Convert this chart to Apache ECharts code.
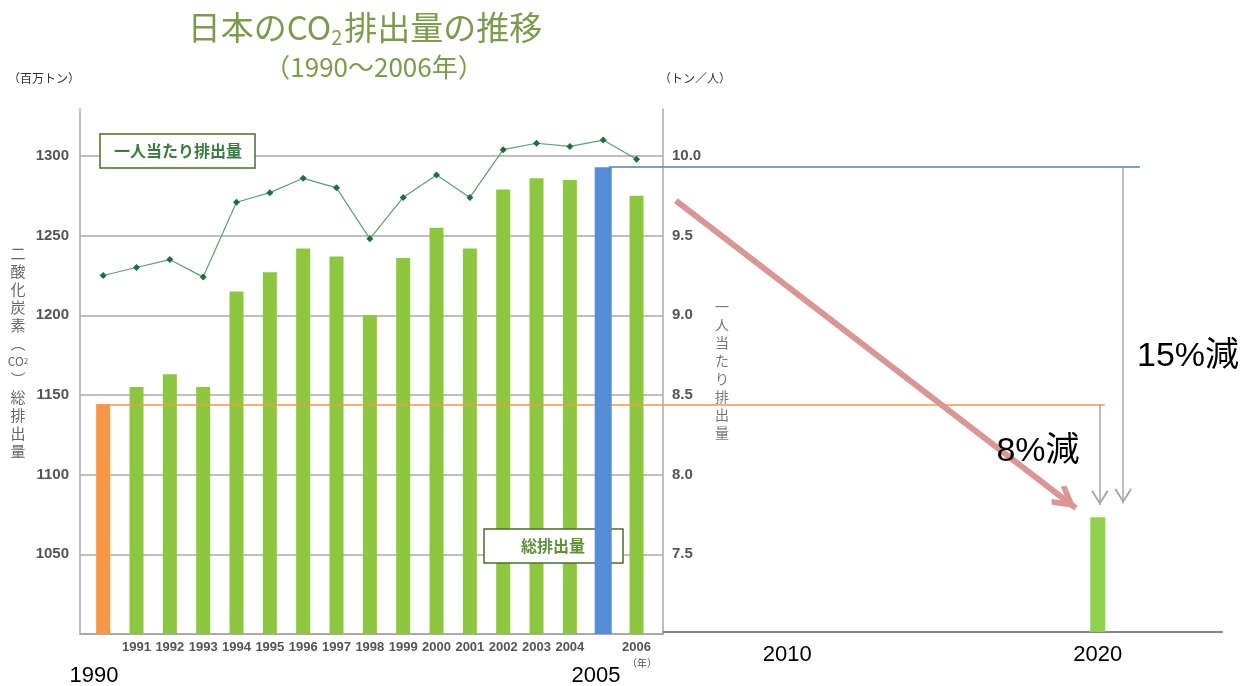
<!DOCTYPE html>
<html>
<head>
<meta charset="utf-8">
<title>日本のCO2排出量の推移</title>
<script src="https://cdn.jsdelivr.net/npm/echarts@6/dist/echarts.min.js"></script>
<style>
  html, body { margin: 0; padding: 0; background: #fff; }
  #chart { width: 1250px; height: 686px; }
</style>
</head>
<body>
<div id="chart"></div>
<script>
// values
const years = ['1990', '1991', '1992', '1993', '1994', '1995', '1996', '1997', '1998',
  '1999', '2000', '2001', '2002', '2003', '2004', '2005', '2006']
const totalEmission = [1144, 1155, 1163, 1155, 1215, 1227, 1242, 1237, 1200,
  1236, 1255, 1242, 1279, 1286, 1285, 1293, 1275] // 百万トン
const perCapita = [9.25, 9.30, 9.35, 9.24, 9.71, 9.77, 9.86, 9.80, 9.48,
  9.74, 9.88, 9.74, 10.04, 10.08, 10.06, 10.10, 9.98] // トン／人
const hiddenYearLabels = ['1990', '2005']
const extYearLabels = [2010, 2020]
const target2020 = 1072

// annotation lines, in (year, 百万トン)
const line1990 = { y: 1144, x: [1989.78, 2020.05] }
const line2005 = { y: 1293, x: [2005.17, 2021.1] }
const arrow8 = { x: 2019.9, y: [1144, 1081] }
const arrow15 = { x: 2020.6, y: [1293, 1082] }
const trendArrow = { x: [2007.18, 2019.18], y: [1272, 1079] }

const leftMax = 1329.5
const rightMax = 10.295

const JP = '"Noto Sans CJK JP", sans-serif'
const olive = '#7d9b4d'

const thinHead = 'path://M5,-10L5,-10Z M5,0 L10,9 L9.2,10 L5,2.2 L0.8,10 L0,9 Z'
const thickHead = 'path://M5,-10L5,-10Z M5,0 L10,8.4 L8.2,10 L5,4.6 L1.8,10 L0,8.4 Z'

const chart = echarts.init(document.getElementById('chart'))

chart.setOption({
  animation: false,
  grid: [
    { left: 86.5, right: 596.8, top: 109, bottom: 52 }, // original bars
    { left: 80, right: 587, top: 109, bottom: 52 }, // frame of original chart
    { left: 663, right: 28, top: 109, bottom: 54 }, // extension to 2020
    { left: 80, right: 28, top: 109, bottom: 52 } // overlay for annotations
  ],
  xAxis: [
    {
      gridIndex: 0,
      type: 'category',
      data: years,
      axisLine: { show: false },
      axisTick: { show: false },
      axisLabel: {
        interval: 0,
        margin: 7,
        color: '#555',
        fontSize: 13,
        fontWeight: 'bold',
        fontFamily: '"Liberation Sans Narrow", "Liberation Sans", sans-serif',
        formatter: v => hiddenYearLabels.includes(v) ? '' : v
      }
    },
    {
      gridIndex: 1,
      type: 'value',
      min: 0,
      max: 1,
      axisLine: { show: true, lineStyle: { color: '#aaa', width: 2 } },
      axisTick: { show: false },
      axisLabel: { show: false },
      splitLine: { show: false }
    },
    {
      gridIndex: 2,
      type: 'value',
      min: 2006,
      max: 2024,
      interval: 2,
      axisLine: { show: true, lineStyle: { color: '#888', width: 2 } },
      axisTick: { show: false },
      splitLine: { show: false },
      axisLabel: {
        margin: 12,
        color: '#000',
        fontSize: 22,
        fontFamily: '"Liberation Sans", sans-serif',
        formatter: v => extYearLabels.includes(v) ? String(v) : ''
      }
    },
    {
      gridIndex: 3,
      type: 'value',
      min: 1989.304,
      max: 2023.564,
      show: false
    }
  ],
  yAxis: [
    { gridIndex: 0, type: 'value', min: 1000, max: leftMax, show: false },
    { gridIndex: 0, type: 'value', min: 7, max: rightMax, show: false },
    {
      gridIndex: 1,
      type: 'value',
      min: 1000,
      max: leftMax,
      interval: 50,
      axisLine: { show: true, lineStyle: { color: '#aaa', width: 1.5 } },
      axisTick: { show: false },
      axisLabel: {
        margin: 11,
        color: '#555',
        fontSize: 15,
        fontWeight: 'bold',
        fontFamily: '"Liberation Sans", sans-serif',
        formatter: v => (v > 1000 && v % 50 === 0) ? String(v) : ''
      },
      splitLine: { show: true, showMaxLine: false, lineStyle: { color: '#aaa', width: 1.5 } }
    },
    {
      gridIndex: 1,
      type: 'value',
      position: 'right',
      min: 7,
      max: rightMax,
      interval: 0.5,
      axisLine: { show: true, lineStyle: { color: '#aaa', width: 1.5 } },
      axisTick: { show: false },
      axisLabel: {
        margin: 9,
        color: '#555',
        fontSize: 15,
        fontWeight: 'bold',
        fontFamily: '"Liberation Sans", sans-serif',
        formatter: v => (v > 7.01 && v < 10.01) ? v.toFixed(1) : ''
      },
      splitLine: { show: false }
    },
    { gridIndex: 2, type: 'value', min: 1000, max: 1000 + 523 / 1.59333, show: false },
    { gridIndex: 3, type: 'value', min: 1000, max: leftMax, show: false }
  ],
  graphic: [
    {
      type: 'text', x: 365, y: 27, z: 10,
      style: {
        text: '{a|日本のCO}{b|2}{a|排出量の推移}',
        align: 'center', verticalAlign: 'middle',
        rich: {
          a: { fontSize: 33, fontFamily: JP, fill: olive, lineHeight: 40 },
          b: { fontSize: 20, fontFamily: JP, fill: olive, lineHeight: 40, verticalAlign: 'bottom', padding: [11, 2, 0, 0] }
        }
      }
    },
    {
      type: 'text', x: 374, y: 67, z: 10,
      style: { text: '（1990～2006年）', font: '26px ' + JP, fill: olive, align: 'center', verticalAlign: 'middle' }
    },
    {
      type: 'text', x: 44, y: 78, z: 10,
      style: { text: '（百万トン）', font: '12px ' + JP, fill: '#333', align: 'center', verticalAlign: 'middle' }
    },
    {
      type: 'text', x: 695, y: 78, z: 10,
      style: { text: '（トン／人）', font: '12px ' + JP, fill: '#333', align: 'center', verticalAlign: 'middle' }
    },
    {
      type: 'text', x: 18, y: 244, z: 10,
      style: {
        text: '二\n酸\n化\n炭\n素\n︵\n{s|CO}{t|2}\n︶\n総\n排\n出\n量',
        font: '15px ' + JP, fill: '#666', align: 'center', verticalAlign: 'top', lineHeight: 18,
        rich: {
          s: { fontSize: 12, fontFamily: JP, fill: '#666', lineHeight: 18 },
          t: { fontSize: 8, fontFamily: JP, fill: '#666', lineHeight: 18 }
        }
      }
    },
    {
      type: 'text', x: 722, y: 298, z: 10,
      style: { text: '一\n人\n当\nた\nり\n排\n出\n量', font: '14px ' + JP, fill: '#777', align: 'center', verticalAlign: 'top', lineHeight: 18 }
    },
    {
      type: 'rect', z: 10,
      shape: { x: 100, y: 134, width: 155, height: 34 },
      style: { fill: '#fff', stroke: '#4b6e2a', lineWidth: 1.5 }
    },
    {
      type: 'text', x: 178, y: 151, z: 11,
      style: { text: '一人当たり排出量', font: 'bold 16px ' + JP, fill: '#3b7b3f', align: 'center', verticalAlign: 'middle' }
    },
    {
      type: 'rect', z: 10,
      shape: { x: 484, y: 529, width: 139, height: 34 },
      style: { fill: '#fff', stroke: '#4b6e2a', lineWidth: 1.5 }
    },
    {
      type: 'text', x: 553, y: 546, z: 11,
      style: { text: '総排出量', font: 'bold 16px ' + JP, fill: '#5f913c', align: 'center', verticalAlign: 'middle' }
    },
    {
      type: 'text', x: 642, y: 663, z: 10,
      style: { text: '（年）', font: '10px ' + JP, fill: '#555', align: 'center', verticalAlign: 'middle' }
    },
    {
      type: 'text', x: 94, y: 676, z: 10,
      style: { text: '1990', font: '22px "Liberation Sans", sans-serif', fill: '#000', align: 'center', verticalAlign: 'middle' }
    },
    {
      type: 'text', x: 596, y: 676, z: 10,
      style: { text: '2005', font: '22px "Liberation Sans", sans-serif', fill: '#000', align: 'center', verticalAlign: 'middle' }
    },
    {
      type: 'text', x: 1188, y: 357, z: 30,
      style: { text: '15%減', font: '34px "Liberation Sans", ' + JP, fill: '#000', align: 'center', verticalAlign: 'middle' }
    },
    {
      type: 'text', x: 1038, y: 452, z: 30,
      style: { text: '8%減', font: '34px "Liberation Sans", ' + JP, fill: '#000', align: 'center', verticalAlign: 'middle' }
    }
  ],
  series: [
    {
      name: '総排出量',
      type: 'bar',
      xAxisIndex: 0,
      yAxisIndex: 0,
      barWidth: 14,
      itemStyle: { color: '#8DC63F' },
      data: totalEmission.map((v, i) => {
        if (years[i] === '2005') return '-'
        if (years[i] === '1990') return { value: v, itemStyle: { color: '#F79646' } }
        return v
      })
    },
    {
      name: '一人当たり排出量',
      type: 'line',
      xAxisIndex: 0,
      yAxisIndex: 1,
      clip: false,
      z: 4,
      symbol: 'diamond',
      symbolSize: 7,
      lineStyle: { color: '#5e9e76', width: 1.2 },
      itemStyle: { color: '#1f6e3c' },
      data: perCapita
    },
    {
      name: '2005',
      type: 'bar',
      xAxisIndex: 3,
      yAxisIndex: 5,
      barWidth: 17,
      z: 20,
      itemStyle: { color: '#558ED5' },
      data: [[Number(years[15]), totalEmission[15]]]
    },
    {
      name: '2020',
      type: 'bar',
      xAxisIndex: 2,
      yAxisIndex: 4,
      barWidth: 15,
      itemStyle: { color: '#92D050' },
      data: [[2020, target2020]]
    },
    {
      name: 'annotations',
      type: 'line',
      xAxisIndex: 3,
      yAxisIndex: 5,
      z: 15,
      data: [],
      markLine: {
        silent: true,
        animation: false,
        label: { show: false },
        symbol: ['none', 'none'],
        data: [
          [
            { coord: [line1990.x[0], line1990.y], symbol: 'none', lineStyle: { color: '#F79646', width: 1.5, type: 'solid' } },
            { coord: [line1990.x[1], line1990.y], symbol: 'none' }
          ],
          [
            { coord: [line2005.x[0], line2005.y], symbol: 'none', lineStyle: { color: '#4A7EBB', width: 1.5, type: 'solid' } },
            { coord: [line2005.x[1], line2005.y], symbol: 'none' }
          ],
          [
            { coord: [arrow8.x, arrow8.y[0]], symbol: 'none', lineStyle: { color: '#a6a6a6', width: 1.5, type: 'solid' } },
            { coord: [arrow8.x, arrow8.y[1]], symbol: thinHead, symbolSize: [17, 30] }
          ],
          [
            { coord: [arrow15.x, arrow15.y[0]], symbol: 'none', lineStyle: { color: '#a6a6a6', width: 1.5, type: 'solid' } },
            { coord: [arrow15.x, arrow15.y[1]], symbol: thinHead, symbolSize: [17, 30] }
          ],
          [
            { coord: [trendArrow.x[0], trendArrow.y[0]], symbol: 'none', lineStyle: { color: '#D99694', width: 6, type: 'solid', cap: 'butt' } },
            { coord: [trendArrow.x[1], trendArrow.y[1]], symbol: thickHead, symbolSize: [24, 50] }
          ]
        ]
      }
    }
  ]
})
</script>
</body>
</html>
